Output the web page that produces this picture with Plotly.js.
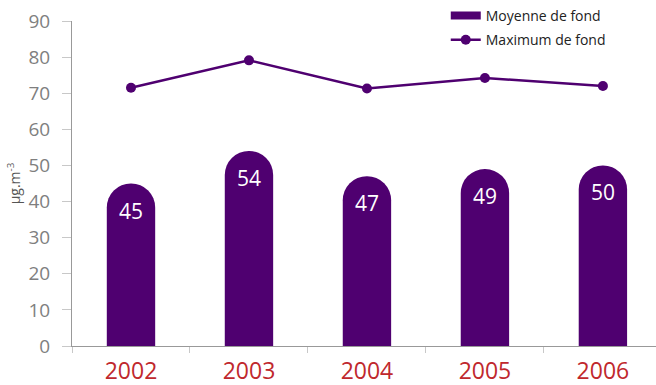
<!DOCTYPE html>
<html>
<head>
<meta charset="utf-8">
<script src="https://cdn.plot.ly/plotly-3.0.1.min.js"></script>
<style>
  html, body { margin: 0; padding: 0; background: #ffffff; }
  #chart { width: 656px; height: 385px; }
</style>
</head>
<body>
<div id="chart"></div>
<script>
const years = ["2002", "2003", "2004", "2005", "2006"];
const moyenneDeFond = [45, 54, 47, 49, 50];
const maximumDeFond = [71.5, 79.1, 71.3, 74.2, 72.0];
const yTicks = [0, 10, 20, 30, 40, 50, 60, 70, 80, 90];

const purple = "#4f0070";
const font = "Open Sans, Noto Sans, sans-serif";

const traces = [
  {
    type: "bar",
    x: years,
    y: moyenneDeFond,
    marker: { color: purple, cornerradius: 24 },
    width: 0.41,
    showlegend: false,
    hoverinfo: "skip"
  },
  {
    type: "scatter",
    mode: "lines",
    x: [null],
    y: [null],
    name: "Moyenne de fond",
    legendgroup: "a",
    line: { color: purple, width: 8 },
    showlegend: true,
    hoverinfo: "skip"
  },
  {
    type: "scatter",
    mode: "lines+markers",
    x: years,
    y: maximumDeFond,
    name: "Maximum de fond",
    legendgroup: "b",
    line: { color: purple, width: 2.5 },
    marker: { color: purple, size: 10 },
    hoverinfo: "skip"
  }
];

// category index positions (numeric-looking category names would otherwise be read as values)
const annotations = years.map((yr, i) => ({
  x: i,
  y: moyenneDeFond[i],
  xref: "x",
  yref: "y",
  text: String(moyenneDeFond[i]),
  showarrow: false,
  yanchor: "middle",
  yshift: -27,
  font: { color: "#ffffff", size: 21, family: font }
}));

const layout = {
  width: 656,
  height: 385,
  margin: { l: 72, r: 0, t: 20, b: 39 },
  paper_bgcolor: "#ffffff",
  plot_bgcolor: "#ffffff",
  font: { family: font, color: "#222222" },
  showlegend: true,
  annotations: annotations,
  legend: {
    x: 0.64, xanchor: "left",
    y: 1.065, yanchor: "top",
    font: { size: 14, color: "#222222", family: font },
    bgcolor: "rgba(0,0,0,0)",
    itemwidth: 30,
    tracegroupgap: 3
  },
  xaxis: {
    type: "category",
    range: [-0.5, 4.45],
    showline: true,
    linecolor: "#999999",
    linewidth: 1,
    ticks: "outside",
    tickson: "boundaries",
    ticklen: 6,
    tickcolor: "#c8c8c8",
    ticklabelstandoff: 4,
    tickfont: { size: 23, color: "#c0282d", family: font },
    showgrid: false,
    zeroline: false,
    fixedrange: true
  },
  yaxis: {
    range: [0, 90],
    tickvals: yTicks,
    ticktext: yTicks.map(String),
    showline: true,
    linecolor: "#999999",
    linewidth: 1,
    ticks: "outside",
    ticklen: 9,
    tickcolor: "#c8c8c8",
    ticklabelstandoff: 8,
    tickfont: { size: 19, color: "#7f7f7f", family: font },
    showgrid: false,
    zeroline: false,
    title: { text: "µg.m<sup>-3</sup>", font: { size: 14, color: "#555555", family: font }, standoff: 4 },
    fixedrange: true
  }
};

Plotly.newPlot("chart", traces, layout, { displayModeBar: false, staticPlot: true });
</script>
</body>
</html>
